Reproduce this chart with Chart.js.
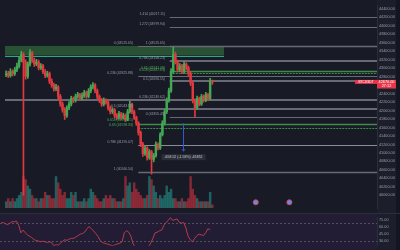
<!DOCTYPE html>
<html><head><meta charset="utf-8">
<script src="https://cdn.jsdelivr.net/npm/chart.js@4.4.1/dist/chart.umd.min.js"></script>
<style>
html,body{margin:0;padding:0;background:#181b26;width:400px;height:250px;overflow:hidden}
#c1{position:absolute;left:0;top:0}
#c2{position:absolute;left:0;top:213px}
</style></head><body>
<canvas id="c1" width="400" height="213"></canvas>
<canvas id="c2" width="400" height="37"></canvas>
<script>
// ---------- DATA ----------
const opens = [42850,42873,42828,42918,42873,42963,43053,43188,43323,43143,
42806,43098,43368,43188,43098,43143,43008,43053,42918,42828,
42873,42693,42603,42513,42558,42333,42153,42018,41883,42063,
42153,42288,42243,42333,42378,42288,42356,42423,42333,42468,
42558,42603,42468,42333,42243,42153,42243,42198,42063,41973,
42018,41883,41838,41928,41838,41883,41793,41973,42153,41973,
41838,41703,41478,41208,40983,41118,40893,41028,40848,40938,
41208,41118,41433,41703,41973,42243,42468,42918,43323,43143,
42963,43053,42918,43098,43008,42873,42648,42243,42063,42288,
42153,42333,42243,42378,42288,42693];
const closes = [42873,42828,42918,42873,42963,43053,43188,43323,43143,42806,
43098,43368,43188,43098,43143,43008,43053,42918,42828,42873,
42693,42603,42513,42558,42333,42153,42018,41883,42063,42153,
42288,42243,42333,42378,42288,42356,42423,42333,42468,42558,
42603,42468,42333,42243,42153,42243,42198,42063,41973,42018,
41883,41838,41928,41838,41883,41793,41973,42153,41973,41838,
41703,41478,41208,40983,41118,40893,41028,40848,40938,41208,
41118,41433,41703,41973,42243,42468,42918,43323,43143,42963,
43053,42918,43098,43008,42873,42648,42243,42063,42288,42153,
42333,42243,42378,42288,42693,42670];
const highs = [42940,42930,42990,42960,43020,43120,43260,43400,43370,43200,
43150,43440,43400,43240,43210,43190,43110,43090,42970,42930,
42910,42750,42650,42620,42590,42380,42200,42070,42110,42210,
42340,42320,42390,42430,42410,42420,42480,42460,42520,42610,
42660,42640,42510,42370,42290,42300,42280,42240,42110,42070,
42050,41930,41980,41960,41940,41920,42030,42220,42180,42010,
41870,41740,41520,41250,41170,41150,41080,41060,40990,41260,
41240,41480,41760,42030,42300,42530,42990,43500,43380,43190,
43110,43090,43160,43130,43050,42910,42690,42280,42340,42320,
42380,42370,42430,42410,42760,42720];
const lows = [42800,42780,42790,42820,42830,42920,43010,43150,40000,42740,
42760,43050,43140,43040,43060,42960,42970,42870,42780,42790,
42640,42550,42460,42470,42280,42100,41960,41790,41840,42020,
42110,42190,42200,42290,42240,42250,42310,42290,42300,42420,
42510,42420,42280,42190,42100,42110,42150,42010,41920,41930,
41830,41790,41800,41790,41800,41740,41760,41940,41930,41790,
41650,41420,41150,40920,40940,40830,40850,40500,40790,40900,
41070,41080,41400,41660,41930,42200,42430,42880,43100,42910,
42920,42870,42880,42960,42820,42590,42180,41850,42020,42110,
42120,42200,42210,42240,42250,42620];
const volumes = [2,3,2,3,2,3,4,5,10,9,
7,6,4,3,3,2,3,3,5,4,
4,3,3,10,8,6,4,5,3,3,
5,4,5,2,2,2,3,2,3,6,
5,4,3,2,2,3,4,3,4,3,
3,2,2,2,3,10,7,8,5,8,
6,5,4,3,3,4,10,9,7,5,
3,4,3,4,7,5,6,3,3,2,
2,3,2,2,3,10,6,4,3,2,
2,2,2,2,5,1];
const rsi = [69,70.5,67.5,66,69,72,72,73.5,64.5,48,
54,48,43.5,40.5,37.5,33,31.5,30,28.5,30,
28.5,27,28.5,27,19.5,22.5,21,25.5,30,33,
31.5,34.5,36,36,39,42,45,46.5,49.5,57,
61.5,57,52.5,46.5,40.5,31.5,27,25.5,24,22.5,
21,19.5,22.5,24,25.5,28.5,48,52.5,49.5,40.5,
24,16.5,14,12,11,13,15,18,25.5,36,
48,49.5,52.5,54,64.5,70.5,75,81,75,76.5,
78,70.5,69,70.5,58.5,40.5,33,28.5,36,42,
45,43.5,42,48,57,54];
const priceTicks = [44400,44200,44000,43800,43600,43400,43200,43000,42800,42600,42400,42200,42000,41800,41600,41400,41200,41000,40800,40600,40400,40200,40000];
const rsiTicks = [75,60,45,30];
const fibALevels = [0,0.236,0.5,0.618,0.65,0.786,1];
const fibAPrices = [43525.65,42825.88,42043.10,41693.21,41598.33,41195.07,40560.54];
const fibBLevels = [1.414,1.272,1,0.786,0.65,0.618,0.5,0.236,0];
const fibBPrices = [44217.11,43979.94,43525.65,43168.23,42941.08,42887.63,42690.55,42249.62,41855.45];
const zonePrices = [43525.65,43300];
const eventIdx = [115,130.5];
const eventPrice = [39835,39835];
const measureFrom = 41700, measureTo = 41041.48, measureIdx = 81.4;
const lastPrice = 42670.00, countdown = '27:12', symbolName = 'BTCUSDT';

// ---------- DRAWING ----------
const UP='#43a854', DN='#e0393e';
const XMAX = 170.86;
const candleCol = opens.map((o,i)=> closes[i]>=o ? UP : DN);
const volCol = opens.map((o,i)=> closes[i]>=o ? 'rgba(38,166,154,0.5)' : 'rgba(242,54,69,0.5)');
const GRAY='#676a75', GREEN='#3f8a4a', LBL='#9a9da6', LGREEN='#4fae5a';
const FONT='"Liberation Sans", Arial, sans-serif';

function hline(ctx,c,price,i0,i1,color,w,dash){
  const y=Math.round(c.scales.y.getPixelForValue(price))+((w%2)?0.5:0);
  ctx.save();ctx.strokeStyle=color;ctx.lineWidth=w;ctx.setLineDash(dash||[]);
  ctx.beginPath();ctx.moveTo(c.scales.x.getPixelForValue(i0),y);ctx.lineTo(c.scales.x.getPixelForValue(i1),y);ctx.stroke();ctx.restore();
}
const styleA = {0:[GRAY,1],0.236:[GRAY,1],0.5:[GRAY,2],0.618:[GREEN,1.5],0.65:[GREEN,1,[2,1]],0.786:['#8a8d97',1],1:[GRAY,1.5]};
const styleB = {1.414:[GRAY,1],1.272:[GRAY,1],1:[GRAY,1.5],0.786:[GRAY,2],0.65:[GREEN,1.5],0.618:[GREEN,1,[2,1]],0.5:[GRAY,2],0.236:[GRAY,2],0:[GRAY,1]};
const A_START=60.9, B_START=75.4, A_LBL=133, B_LBL=165;

const overlay = {
  id:'overlay',
  beforeDraw(c){
    const ctx=c.ctx, a=c.chartArea;
    ctx.save();
    ctx.fillStyle='#181b26';ctx.fillRect(0,0,c.width,c.height);
    ctx.fillStyle='#1c1f2b';ctx.fillRect(a.right,0,c.width-a.right,c.height);
    ctx.fillStyle='#131620';ctx.fillRect(396,0,4,c.height);
    ctx.restore();
  },
  beforeDatasetsDraw(c){
    const ctx=c.ctx, xs=c.scales.x, ys=c.scales.y;
    // zone
    const x0=xs.getPixelForValue(-0.5), x1=xs.getPixelForValue(100.4);
    const yt=ys.getPixelForValue(zonePrices[0]), yb=ys.getPixelForValue(zonePrices[1]);
    ctx.save();ctx.fillStyle='rgba(67,160,71,0.42)';ctx.fillRect(x0,yt,x1-x0,yb-yt);ctx.restore();
    hline(ctx,c,zonePrices[1],-0.5,100.4,'#2aa596',1);
    fibAPrices.forEach((p,k)=>{const s=styleA[fibALevels[k]];hline(ctx,c,p,A_START,XMAX,s[0],s[1],s[2]);});
    fibBPrices.forEach((p,k)=>{const s=styleB[fibBLevels[k]];hline(ctx,c,p,B_START,XMAX,s[0],s[1],s[2]);});
    hline(ctx,c,fibBPrices[7],-0.5,B_START,GRAY,2);
  },
  afterDatasetsDraw(c){
    const ctx=c.ctx, xs=c.scales.x, ys=c.scales.y;
    ctx.save();
    ctx.font='3.4px '+FONT;ctx.textAlign='right';ctx.textBaseline='bottom';
    fibAPrices.forEach((p,k)=>{const l=fibALevels[k];ctx.fillStyle=(l===0.618||l===0.65)?LGREEN:LBL;
      const off = l===0.618? -1 : 0;
      ctx.fillText(l+' ('+p.toFixed(2)+')',A_LBL,ys.getPixelForValue(p)-1+off);});
    fibBPrices.forEach((p,k)=>{const l=fibBLevels[k];ctx.fillStyle=(l===0.618||l===0.65)?LGREEN:LBL;
      ctx.fillText(l+' ('+p.toFixed(2)+')',B_LBL,ys.getPixelForValue(p)-1);});
    // measure
    const mx=Math.round(xs.getPixelForValue(measureIdx))+0.5, my0=ys.getPixelForValue(measureFrom), my1=ys.getPixelForValue(measureTo);
    ctx.strokeStyle='#2f5bd0';ctx.lineWidth=1;ctx.beginPath();ctx.moveTo(mx,my0);ctx.lineTo(mx,my1);ctx.stroke();
    ctx.beginPath();ctx.moveTo(mx-1.5,my1-2);ctx.lineTo(mx,my1);ctx.lineTo(mx+1.5,my1-2);ctx.stroke();
    const d=measureTo-measureFrom;
    const txt=d.toFixed(2)+' ('+(d/measureFrom*100).toFixed(2)+'%) '+Math.round(d*100);
    ctx.font='3.5px '+FONT;const tw=ctx.measureText(txt).width;
    ctx.fillStyle='#2a2e39';ctx.fillRect(mx-tw/2-3,my1+3,tw+6,6);
    ctx.fillStyle='#c9ccd4';ctx.textAlign='center';ctx.textBaseline='middle';ctx.fillText(txt,mx,my1+6.2);
    ctx.restore();
  },
  afterDraw(c){
    const ctx=c.ctx, ys=c.scales.y, a=c.chartArea;
    const y=ys.getPixelForValue(lastPrice);
    ctx.save();
    ctx.fillStyle='#e5374a';
    ctx.fillRect(355,y-2.3,a.right-355,4);
    ctx.fillRect(a.right,y-2.3,19,8.6);
    ctx.fillStyle='#ffffff';ctx.font='3.2px '+FONT;ctx.textBaseline='middle';ctx.textAlign='center';
    ctx.fillText(symbolName,(355+a.right)/2,y-0.2);
    ctx.font='3.8px '+FONT;
    ctx.fillText(lastPrice.toFixed(2),a.right+9.5,y);
    ctx.fillText(countdown,a.right+9.5,y+4);
    ctx.restore();
  }
};

new Chart(document.getElementById('c1'),{
  type:'bar',
  data:{datasets:[
    {type:'bar',data:volumes.map((v,i)=>({x:i,y:v})),yAxisID:'yv',backgroundColor:volCol,barThickness:1.8,grouped:false,order:3},
    {type:'bar',data:lows.map((l,i)=>({x:i,y:[l,highs[i]]})),yAxisID:'y',backgroundColor:candleCol,barThickness:1,grouped:false,order:2},
    {type:'bar',data:opens.map((o,i)=>({x:i,y:[o,closes[i]]})),yAxisID:'y',backgroundColor:candleCol,barThickness:1.8,minBarLength:1,grouped:false,order:1},
    {type:'scatter',data:eventIdx.map((x,i)=>({x:x,y:eventPrice[i]})),yAxisID:'y',pointRadius:2.5,pointBackgroundColor:'#5b8def',pointBorderColor:'#e0434f',pointBorderWidth:1,order:0}
  ]},
  options:{
    responsive:false,animation:false,devicePixelRatio:1,
    layout:{padding:0},
    plugins:{legend:{display:false},tooltip:{enabled:false}},
    scales:{
      x:{type:'linear',display:false,min:-0.5,max:XMAX,offset:false},
      y:{position:'right',min:39700,max:44493,
         grid:{display:false,drawTicks:false},border:{display:true,color:'#2a2e39'},
         ticks:{color:'#9a9da6',font:{size:3.8,family:FONT},padding:2,callback:v=>Number(v).toFixed(2)},
         afterBuildTicks:s=>{s.ticks=priceTicks.map(v=>({value:v}));},
         afterFit:s=>{s.width=23;}},
      yv:{display:false,min:0,max:64.5}
    }
  },
  plugins:[overlay]
});

const rsiPlugin = {
  id:'rsibg',
  beforeDraw(c){
    const ctx=c.ctx,a=c.chartArea;
    ctx.save();
    ctx.fillStyle='#221d35';ctx.fillRect(0,0,a.right,c.height);
    ctx.fillStyle='#1c1f2b';ctx.fillRect(a.right,0,c.width-a.right,c.height);
    ctx.fillStyle='#131620';ctx.fillRect(396,0,4,c.height);
    ctx.fillStyle='#2a2e39';ctx.fillRect(0,0,c.width,1);
    ctx.restore();
  },
  beforeDatasetsDraw(c){
    const ctx=c.ctx,a=c.chartArea,ys=c.scales.y;
    ctx.save();ctx.strokeStyle='rgba(120,123,134,0.55)';ctx.lineWidth=1;ctx.setLineDash([2,2]);
    [70,30].forEach(v=>{const y=Math.round(ys.getPixelForValue(v))+0.5;ctx.beginPath();ctx.moveTo(a.left,y);ctx.lineTo(a.right,y);ctx.stroke();});
    ctx.restore();
  }
};
new Chart(document.getElementById('c2'),{
  type:'line',
  data:{datasets:[{data:rsi.map((v,i)=>({x:i,y:v})),borderColor:'#b93c4b',borderWidth:1,pointRadius:0,tension:0}]},
  options:{
    responsive:false,animation:false,devicePixelRatio:1,
    layout:{padding:0},
    plugins:{legend:{display:false},tooltip:{enabled:false}},
    scales:{
      x:{type:'linear',display:false,min:-0.5,max:XMAX},
      y:{position:'right',min:20,max:81.7,
         grid:{display:false,drawTicks:false},border:{display:true,color:'#2a2e39'},
         ticks:{color:'#9a9da6',font:{size:3.8,family:FONT},padding:2,callback:v=>Number(v).toFixed(2)},
         afterBuildTicks:s=>{s.ticks=rsiTicks.map(v=>({value:v}));},
         afterFit:s=>{s.width=23;}}
    }
  },
  plugins:[rsiPlugin]
});
</script>
</body></html>
